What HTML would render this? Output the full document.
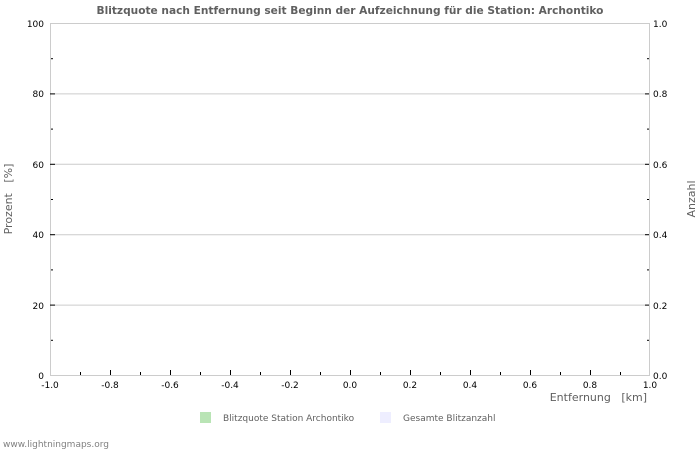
<!DOCTYPE html>
<html><head><meta charset="utf-8"><style>
body{margin:0;background:#fff;}
svg{display:block;font-family:"DejaVu Sans","Liberation Sans",sans-serif;}
</style></head><body>
<svg width="700" height="450" viewBox="0 0 700 450" xmlns="http://www.w3.org/2000/svg">
<rect width="700" height="450" fill="#fff"/>
<text x="350" y="14" text-anchor="middle" font-size="10.6" font-weight="bold" fill="#606060">Blitzquote nach Entfernung seit Beginn der Aufzeichnung für die Station: Archontiko</text>
<g stroke="#cccccc" stroke-width="1">
<line x1="50" y1="23.5" x2="650" y2="23.5"/>
<line x1="50" y1="93.9" x2="650" y2="93.9"/>
<line x1="50" y1="164.3" x2="650" y2="164.3"/>
<line x1="50" y1="234.7" x2="650" y2="234.7"/>
<line x1="50" y1="305.1" x2="650" y2="305.1"/>
<line x1="50" y1="375.5" x2="650" y2="375.5"/>
<line x1="50.5" y1="23" x2="50.5" y2="376"/>
<line x1="649.5" y1="23" x2="649.5" y2="376"/>
</g>
<g stroke="#000" stroke-width="1">
<line x1="50" y1="93.9" x2="55" y2="93.9"/><line x1="50" y1="164.3" x2="55" y2="164.3"/><line x1="50" y1="234.7" x2="55" y2="234.7"/><line x1="50" y1="305.1" x2="55" y2="305.1"/>
<line x1="51" y1="58.7" x2="53" y2="58.7"/><line x1="51" y1="129.1" x2="53" y2="129.1"/><line x1="51" y1="199.5" x2="53" y2="199.5"/><line x1="51" y1="269.9" x2="53" y2="269.9"/><line x1="51" y1="340.3" x2="53" y2="340.3"/>
<line x1="645" y1="93.9" x2="649" y2="93.9"/><line x1="645" y1="164.3" x2="649" y2="164.3"/><line x1="645" y1="234.7" x2="649" y2="234.7"/><line x1="645" y1="305.1" x2="649" y2="305.1"/>
<line x1="647" y1="58.7" x2="649" y2="58.7"/><line x1="647" y1="129.1" x2="649" y2="129.1"/><line x1="647" y1="199.5" x2="649" y2="199.5"/><line x1="647" y1="269.9" x2="649" y2="269.9"/><line x1="647" y1="340.3" x2="649" y2="340.3"/>
<line x1="80.5" y1="372" x2="80.5" y2="375"/><line x1="110.5" y1="370" x2="110.5" y2="375"/><line x1="140.5" y1="372" x2="140.5" y2="375"/><line x1="170.5" y1="370" x2="170.5" y2="375"/><line x1="200.5" y1="372" x2="200.5" y2="375"/><line x1="230.5" y1="370" x2="230.5" y2="375"/><line x1="260.5" y1="372" x2="260.5" y2="375"/><line x1="290.5" y1="370" x2="290.5" y2="375"/><line x1="320.5" y1="372" x2="320.5" y2="375"/><line x1="350.5" y1="370" x2="350.5" y2="375"/><line x1="380.5" y1="372" x2="380.5" y2="375"/><line x1="410.5" y1="370" x2="410.5" y2="375"/><line x1="440.5" y1="372" x2="440.5" y2="375"/><line x1="470.5" y1="370" x2="470.5" y2="375"/><line x1="500.5" y1="372" x2="500.5" y2="375"/><line x1="530.5" y1="370" x2="530.5" y2="375"/><line x1="560.5" y1="372" x2="560.5" y2="375"/><line x1="590.5" y1="370" x2="590.5" y2="375"/><line x1="620.5" y1="372" x2="620.5" y2="375"/>
</g>
<g font-size="9" fill="#000" text-anchor="end">
<text x="44" y="27">100</text><text x="44" y="97">80</text><text x="44" y="168">60</text><text x="44" y="238">40</text><text x="44" y="309">20</text><text x="44" y="379">0</text>
</g>
<g font-size="9" fill="#000" text-anchor="start">
<text x="653" y="27">1.0</text><text x="653" y="97">0.8</text><text x="653" y="168">0.6</text><text x="653" y="238">0.4</text><text x="653" y="309">0.2</text><text x="653" y="379">0.0</text>
</g>
<g font-size="9" fill="#000" text-anchor="middle">
<text x="50" y="388">-1.0</text><text x="110" y="388">-0.8</text><text x="170" y="388">-0.6</text><text x="230" y="388">-0.4</text><text x="290" y="388">-0.2</text><text x="350" y="388">0.0</text><text x="410" y="388">0.2</text><text x="470" y="388">0.4</text><text x="530" y="388">0.6</text><text x="590" y="388">0.8</text><text x="650" y="388">1.0</text>
</g>
<text x="647" y="401" text-anchor="end" font-size="11" fill="#606060" xml:space="preserve">Entfernung   [km]</text>
<text transform="translate(12,199) rotate(-90)" text-anchor="middle" font-size="11" fill="#606060" xml:space="preserve">Prozent   [%]</text>
<text transform="translate(695,199) rotate(-90)" text-anchor="middle" font-size="11" fill="#606060">Anzahl</text>
<rect x="200" y="412" width="11" height="11" fill="#b9e4b5"/>
<text x="223" y="421" font-size="9" fill="#606060">Blitzquote Station Archontiko</text>
<rect x="380" y="412" width="11" height="11" fill="#eeeeff"/>
<text x="403" y="421" font-size="9" fill="#606060">Gesamte Blitzanzahl</text>
<text x="3" y="447" font-size="9" fill="#808080">www.lightningmaps.org</text>
</svg>
</body></html>
